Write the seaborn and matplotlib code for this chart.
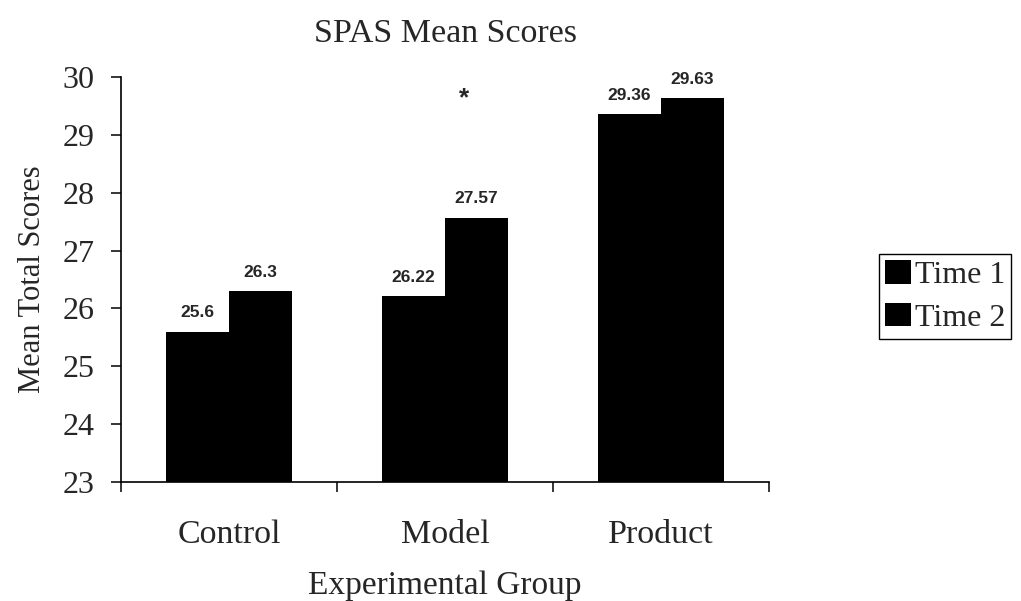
import matplotlib
matplotlib.use("Agg")
import matplotlib.pyplot as plt
import seaborn as sns
import pandas as pd

# 数据
groups = ["Control", "Model", "Product"]
time1 = [25.6, 26.22, 29.36]
time2 = [26.3, 27.57, 29.63]
series = ["Time 1", "Time 2"]
y_ticks = [23, 24, 25, 26, 27, 28, 29, 30]

sns.set_style("ticks")
plt.rcParams['font.family'] = ['Liberation Serif', 'DejaVu Serif']

df = pd.DataFrame({
    "group": groups * 2,
    "time": [series[0]] * 3 + [series[1]] * 3,
    "score": time1 + time2,
})

fig = plt.figure(figsize=(10.21, 6.01), dpi=100)
ax = fig.add_axes([0.1185, 0.198, 0.6347, 0.6739])

sns.barplot(data=df, x="group", y="score", hue="time", order=groups,
            hue_order=series, palette=["black", "black"], width=0.585,
            saturation=1, errorbar=None, linewidth=0, ax=ax)

ax.set_xlim(-0.5, 2.5)
ax.set_ylim(23, 30)
ax.set_yticks(y_ticks)

# 数值标注
for cont in ax.containers:
    ax.bar_label(cont, labels=[f"{v:g}" for v in cont.datavalues], padding=8,
                 fontsize=12.5, fontweight='bold', family='Liberation Sans')

# 显著性星号
ax.text(1.088, 29.63, "*", ha='center', va='center', fontsize=19,
        fontweight='bold', family='Liberation Sans')

sns.despine(ax=ax)
for s in ["left", "bottom"]:
    ax.spines[s].set_color("black")
    ax.spines[s].set_linewidth(1.2)

ax.set_xticks([-0.5, 0.5, 1.5, 2.5], minor=True)
ax.tick_params(axis='x', which='major', length=0, pad=27, labelsize=24.5)
ax.tick_params(axis='x', which='minor', length=7, width=1.1, direction='out', color='black')
ax.tick_params(axis='y', length=7, width=1.1, direction='out', color='black', pad=12, labelsize=23)

ax.set_title("SPAS Mean Scores", fontsize=24.5, pad=25)
ax.set_xlabel("Experimental Group", fontsize=24, labelpad=15)
ax.set_ylabel("Mean Total Scores", fontsize=22, labelpad=11)

sns.move_legend(ax, "center", bbox_to_anchor=(0.9256, 0.5067),
                bbox_transform=fig.transFigure, title=None, frameon=True,
                fancybox=False, edgecolor='black', framealpha=1,
                fontsize=23, handlelength=0.8, handleheight=0.75,
                handletextpad=0.12, labelspacing=0.39, borderpad=0.2)
leg = ax.get_legend()
leg.get_frame().set_linewidth(1.0)

fig.savefig("out.png", dpi=100)
